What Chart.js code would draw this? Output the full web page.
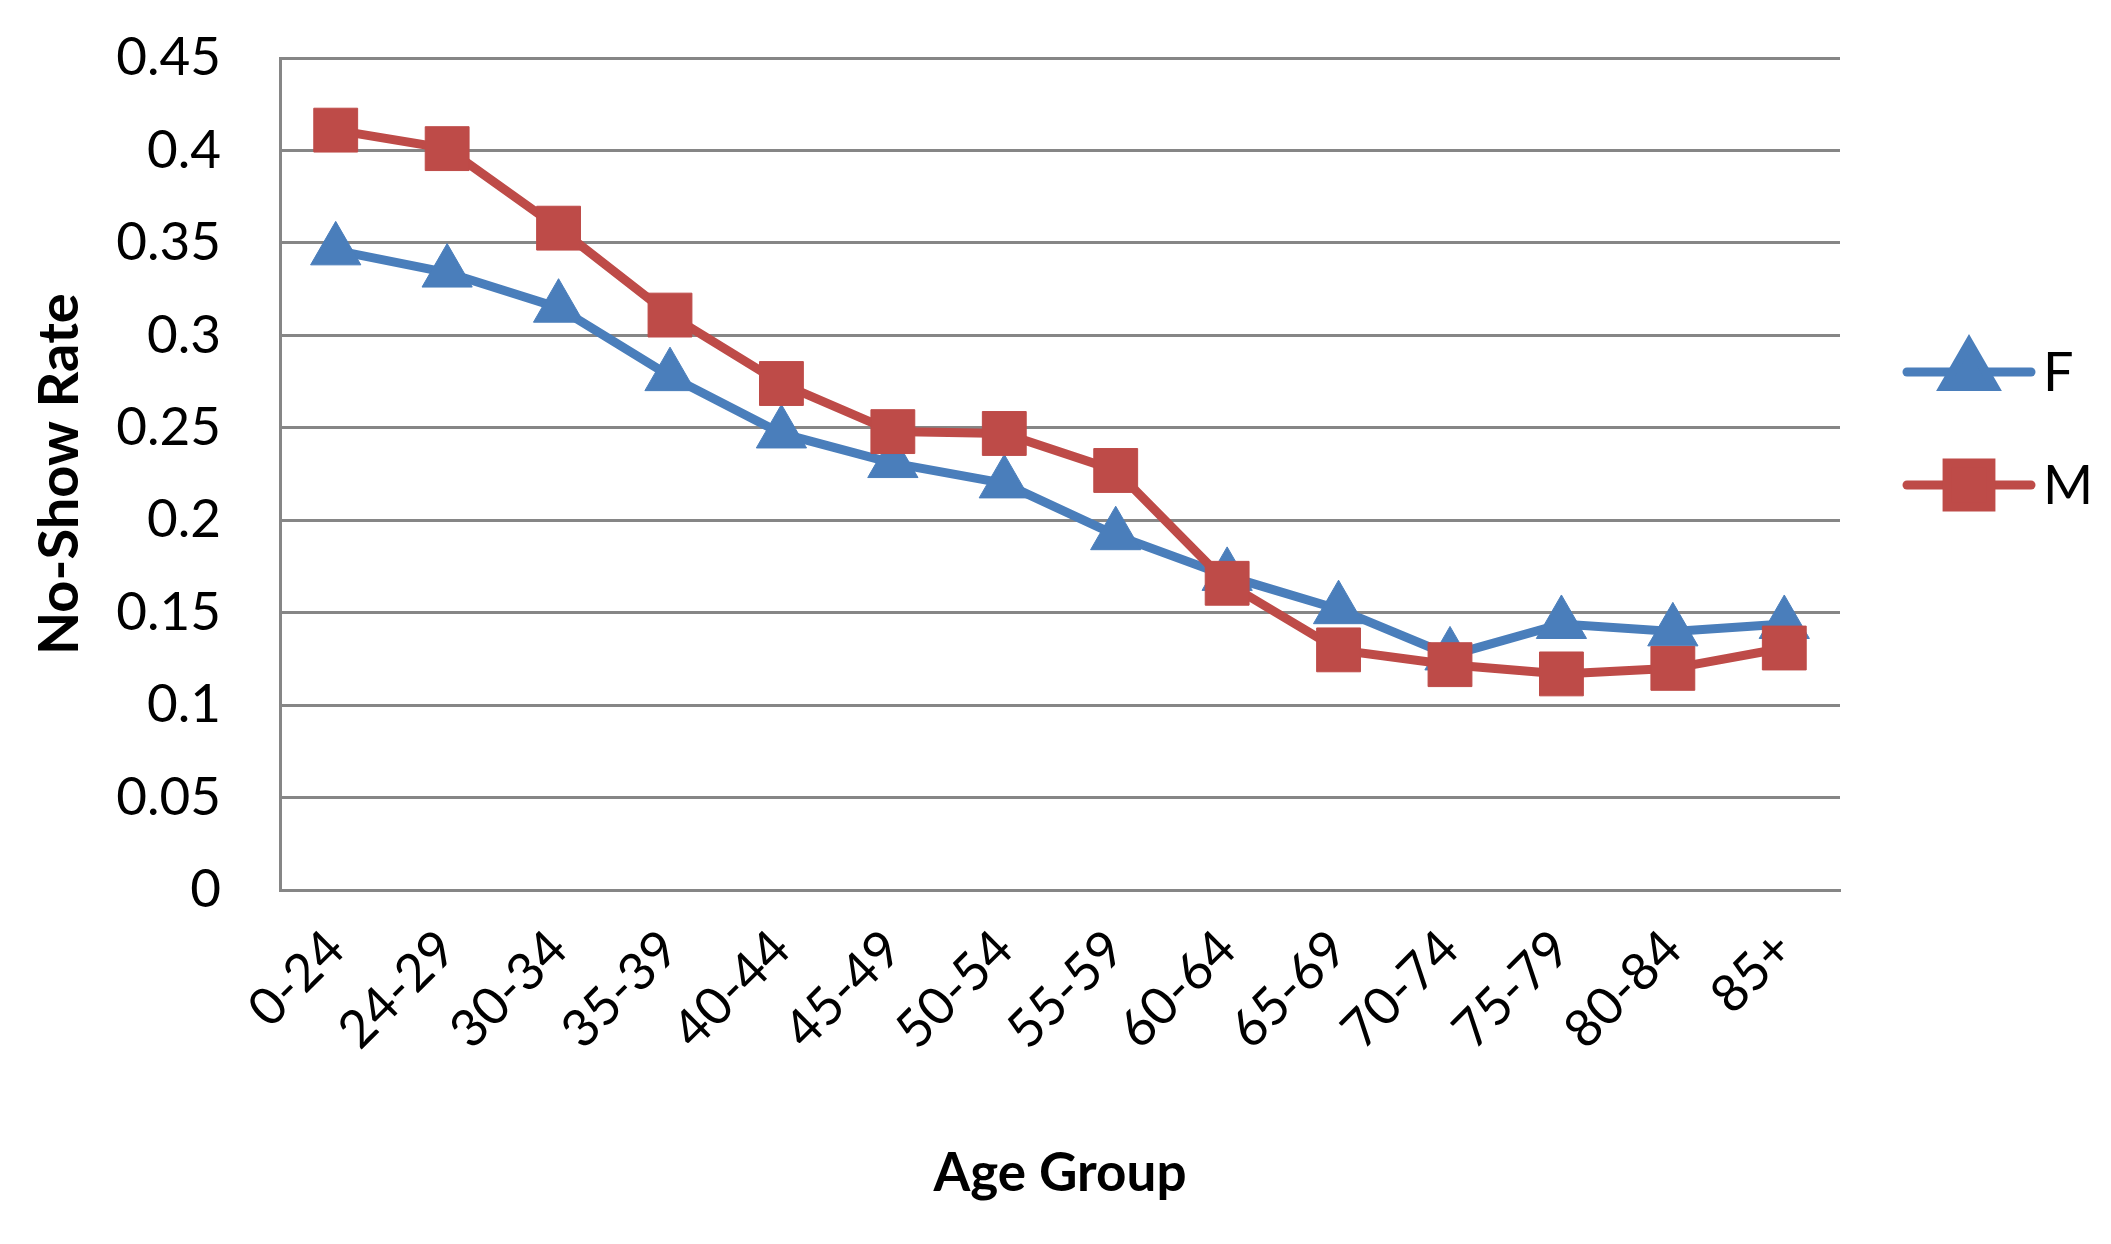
<!DOCTYPE html>
<html>
<head>
<meta charset="utf-8">
<script src="https://cdn.jsdelivr.net/npm/chart.js@4.4.1/dist/chart.umd.min.js"></script>
<style>
  html, body { margin: 0; padding: 0; background: #fff; }
  #wrap { width: 2111px; height: 1244px; position: relative; }
</style>
</head>
<body>
<div id="wrap"><canvas id="lineChart"></canvas></div>
<script>
// Data
const ageGroups = ['0-24', '24-29', '30-34', '35-39', '40-44', '45-49', '50-54',
  '55-59', '60-64', '65-69', '70-74', '75-79', '80-84', '85+'];
const femaleRate = [0.346, 0.334, 0.315, 0.278, 0.247, 0.231, 0.220,
  0.192, 0.170, 0.152, 0.127, 0.144, 0.140, 0.144];
const maleRate = [0.411, 0.401, 0.358, 0.311, 0.274, 0.248, 0.247,
  0.227, 0.166, 0.130, 0.122, 0.117, 0.120, 0.131];

const BLUE = '#4A7EBB';
const RED = '#BE4B48';
const GRID = '#868686';
const FONT = 'Lato';

// Legend drawn as line + marker, like the spreadsheet legend
const lineLegend = {
  id: 'lineLegend',
  afterDraw(chart) {
    const ctx = chart.ctx;
    const area = chart.chartArea;
    const x0 = area.right + 63;
    const len = 132;
    const rows = [372, 485];
    ctx.save();
    chart.data.datasets.forEach((ds, i) => {
      const y = rows[i];
      ctx.strokeStyle = ds.borderColor;
      ctx.lineWidth = ds.borderWidth;
      ctx.lineCap = 'round';
      ctx.beginPath();
      ctx.moveTo(x0 + 4, y);
      ctx.lineTo(x0 + len - 4, y);
      ctx.stroke();
      ctx.fillStyle = ds.backgroundColor;
      ctx.strokeStyle = ds.borderColor;
      Chart.helpers.drawPoint(ctx, {
        pointStyle: ds.pointStyle,
        radius: ds.pointRadius,
        borderWidth: 1
      }, x0 + len / 2, y);
      ctx.fillStyle = '#000';
      ctx.font = '54px ' + FONT;
      ctx.textAlign = 'left';
      ctx.textBaseline = 'middle';
      ctx.fillText(ds.label, x0 + len + 8, y + 2);
    });
    ctx.restore();
  }
};

const ctx = document.getElementById('lineChart').getContext('2d');
const chart = new Chart(ctx, {
  type: 'line',
  data: {
    labels: ageGroups,
    datasets: [
      {
        label: 'F',
        data: femaleRate,
        borderColor: BLUE,
        backgroundColor: BLUE,
        borderWidth: 9,
        pointStyle: 'triangle',
        pointRadius: 29,
        pointBorderWidth: 1,
        tension: 0,
        order: 1,
      },
      {
        label: 'M',
        data: maleRate,
        borderColor: RED,
        backgroundColor: RED,
        borderWidth: 9,
        pointStyle: 'rect',
        pointRadius: 31,
        pointBorderWidth: 1,
        tension: 0,
        order: 0,
      },
    ],
  },
  options: {
    responsive: true,
    maintainAspectRatio: false,
    animation: false,
    devicePixelRatio: 1,
    layout: {
      padding: { left: 10, right: 271, top: 58, bottom: 28 }
    },
    plugins: {
      legend: { display: false },
      tooltip: { enabled: false },
    },
    scales: {
      x: {
        offset: true,
        grid: { display: false, drawTicks: false },
        border: { display: true, color: GRID, width: 3 },
        ticks: {
          color: '#000',
          font: { family: FONT, size: 52 },
          maxRotation: 45,
          minRotation: 45,
          padding: 28,
          autoSkip: false,
        },
        title: {
          display: true,
          text: 'Age Group',
          color: '#000',
          font: { family: FONT, size: 53, weight: 'bold' },
          padding: { top: 53, bottom: 10 },
        },
      },
      y: {
        min: 0,
        max: 0.45,
        // keep the axis where the reference has it (tick padding would
        // otherwise be added to the axis width and to the top margin)
        afterFit: function(scale) {
          scale.width = 270;
          scale.paddingTop = 0;
          scale.paddingBottom = 0;
        },
        ticks: {
          stepSize: 0.05,
          color: '#000',
          font: { family: FONT, size: 53 },
          padding: 59,
          callback: function(value) {
            return String(Number(value.toFixed(2)));
          }
        },
        grid: { color: GRID, lineWidth: 3, drawTicks: false },
        border: { display: true, color: GRID, width: 3 },
        title: {
          display: true,
          text: 'No-Show Rate',
          color: '#000',
          font: { family: FONT, size: 56, weight: 'bold' },
          padding: { top: 16, bottom: 20 },
        },
      },
    },
  },
  plugins: [lineLegend],
});
</script>
</body>
</html>
